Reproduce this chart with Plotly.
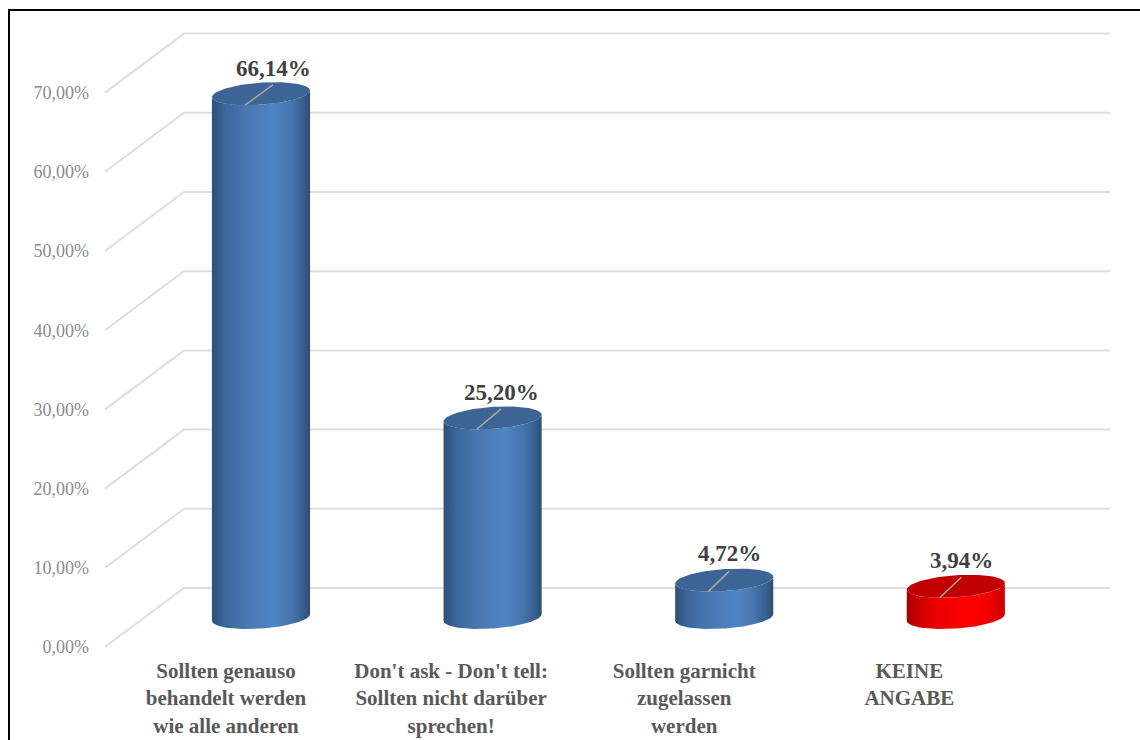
import numpy as np
import plotly.graph_objects as go

# Survey answers and their shares in percent
categories = [
    "Sollten genauso<br>behandelt werden<br>wie alle anderen",
    "Don't ask - Don't tell:<br>Sollten nicht darüber<br>sprechen!",
    "Sollten garnicht<br>zugelassen<br>werden",
    "KEINE<br>ANGABE",
]
shares = [66.14, 25.20, 4.72, 3.94]
axis_ticks = [0, 10, 20, 30, 40, 50, 60, 70]
axis_tick_labels = ["0,00%", "10,00%", "20,00%", "30,00%", "40,00%", "50,00%", "60,00%", "70,00%"]
palette_names = ["blue", "blue", "blue", "red"]

WIDTH, HEIGHT = 1140, 740
PX_PER_CATEGORY = 231.6
PX_PER_PERCENT = 7.92
FIRST_CATEGORY_PX = 221.5
BASELINE_PX = 647


def dx(px):
    return px / PX_PER_CATEGORY


def dy(px):
    return px / PX_PER_PERCENT


# The oblique floor: how far the back wall is shifted from the front edge
DEPTH_X, DEPTH_Y = dx(79), dy(59)
FLOOR_LEFT, FLOOR_RIGHT = dx(105 - FIRST_CATEGORY_PX), dx(1110 - FIRST_CATEGORY_PX)

# Cylinder cross-section, expressed along the floor's width and depth directions
RADIUS_X = dx(47)
SKEW_X, SKEW_Y = dx(14), dy(11.5)

PALETTES = {
    "blue": {
        "cap": "#3c6494",
        "body": [[0, "#2c5078"], [0.12, "#3a6598"], [0.3, "#4674ad"], [0.62, "#5085c6"],
                 [0.8, "#4675ae"], [0.93, "#375f8e"], [1, "#2d4d73"]],
    },
    "red": {
        "cap": "#c00000",
        "body": [[0, "#a00000"], [0.12, "#cc0000"], [0.3, "#ea0000"], [0.62, "#ff0000"],
                 [0.85, "#f00000"], [1, "#c80000"]],
    },
}

# Offsets (px) of each value label relative to its cylinder
label_nudges = [12, 8.5, 5, 5.5]
label_lifts = [25, 25, 26.5, 26]
# Category labels sit slightly off the regular tick spacing
tick_nudges = [dx(4.5), dx(-2), dx(-0.5), dx(-7)]


def ellipse_point(cx, cy, t):
    return cx + RADIUS_X * np.cos(t) + SKEW_X * np.sin(t), cy + SKEW_Y * np.sin(t)


fig = go.Figure()

# Floor edges and back-wall gridlines
grid_x, grid_y = [], []
for v in axis_ticks:
    grid_x += [FLOOR_LEFT, FLOOR_LEFT + DEPTH_X, FLOOR_RIGHT, None]
    grid_y += [v, v + DEPTH_Y, v + DEPTH_Y, None]
fig.add_trace(go.Scatter(x=grid_x, y=grid_y, mode="lines",
                         line=dict(color="#dedede", width=2), hoverinfo="skip", showlegend=False))

# Parameter where the ellipse reaches its left and right silhouette
t_edge = np.arctan2(SKEW_X, RADIUS_X)
annotations = []
for i, (value, pal_name, nudge, lift) in enumerate(zip(shares, palette_names, label_nudges, label_lifts)):
    pal = PALETTES[pal_name]
    cx = i + DEPTH_X / 2
    base_y = DEPTH_Y / 2
    top_y = value + DEPTH_Y / 2

    # Body silhouette: down the left side, along the front of the base, up the right side
    front = np.linspace(np.pi + t_edge, 2 * np.pi + t_edge, 60)
    bx, by = ellipse_point(cx, base_y, front)
    tx, ty = ellipse_point(cx, top_y, front[::-1])
    fig.add_trace(go.Scatter(
        x=np.concatenate([bx, tx, bx[:1]]), y=np.concatenate([by, ty, by[:1]]),
        mode="lines", fill="toself", line=dict(width=0),
        fillgradient=dict(type="horizontal", colorscale=pal["body"]),
        hoverinfo="skip", showlegend=False))

    # Top cap
    around = np.linspace(0, 2 * np.pi, 120)
    ex, ey = ellipse_point(cx, top_y, around)
    fig.add_trace(go.Scatter(x=ex, y=ey, mode="lines", fill="toself", fillcolor=pal["cap"],
                             line=dict(width=0), hoverinfo="skip", showlegend=False))

    # Leader from the cap up to the value label
    fig.add_trace(go.Scatter(
        x=[cx - dx(16), cx + dx(nudge)], y=[top_y - dy(11.5), top_y + dy(9)], mode="lines",
        line=dict(color="#a9a9a9", width=1.5), hoverinfo="skip", showlegend=False))

    annotations.append(dict(
        x=cx, y=top_y, xref="x", yref="y", xshift=nudge, yshift=lift, showarrow=False,
        text=f"<b>{value:.2f}%</b>".replace(".", ","),
        font=dict(family="Liberation Serif", size=23, color="#404040"),
        xanchor="center", yanchor="middle"))

fig.update_layout(
    width=WIDTH, height=HEIGHT,
    margin=dict(l=0, r=0, t=0, b=0),
    paper_bgcolor="white", plot_bgcolor="white",
    showlegend=False,
    annotations=annotations,
    xaxis=dict(
        range=[dx(-FIRST_CATEGORY_PX), dx(WIDTH - FIRST_CATEGORY_PX)],
        tickmode="array",
        tickvals=[i + n for i, n in enumerate(tick_nudges)],
        ticktext=[f"<b>{c}</b>".replace("<br>", "</b><br><b>") for c in categories],
        tickfont=dict(family="Liberation Serif", size=21, color="#595959"),
        tickangle=0, ticks="", showgrid=False, zeroline=False, showline=False,
        anchor="free", position=(HEIGHT - BASELINE_PX) / HEIGHT,
        ticklabelstandoff=9, automargin=False, fixedrange=True,
    ),
    yaxis=dict(
        range=[dy(BASELINE_PX - HEIGHT), dy(BASELINE_PX)],
        tickmode="array", tickvals=axis_ticks, ticktext=axis_tick_labels,
        tickfont=dict(family="Liberation Serif", size=18, color="#8c8c8c"),
        ticks="", showgrid=False, zeroline=False, showline=False,
        anchor="free", position=89 / WIDTH,
        ticklabelshift=0, ticklabelstandoff=0, automargin=False, fixedrange=True,
    ),
    shapes=[dict(type="path", xref="paper", yref="paper", layer="above",
                 path=f"M {9 / WIDTH} 0 L {9 / WIDTH} {1 - 10 / HEIGHT} L 1 {1 - 10 / HEIGHT}",
                 line=dict(color="black", width=2))],
)

fig.write_html("out.html", config=dict(displayModeBar=False))
